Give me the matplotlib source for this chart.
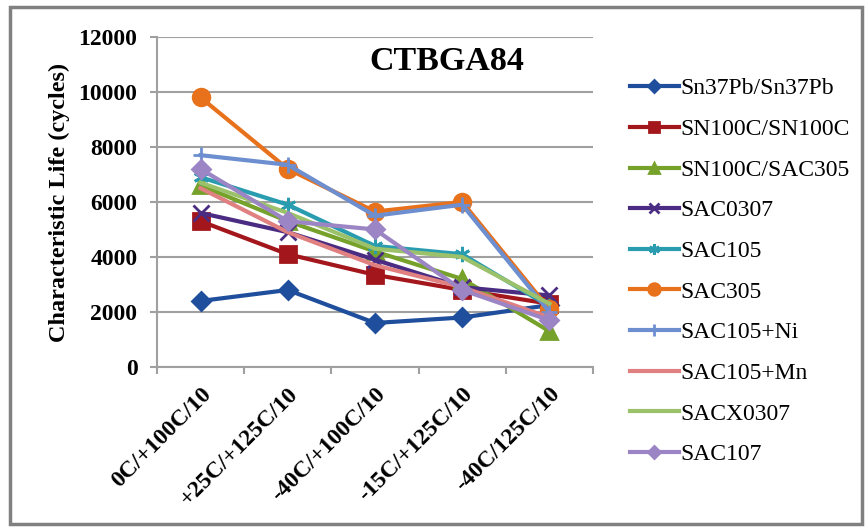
import matplotlib
matplotlib.use("Agg")
import matplotlib.pyplot as plt
from matplotlib.patches import Rectangle

categories = ["0C/+100C/10", "+25C/+125C/10", "-40C/+100C/10", "-15C/+125C/10", "-40C/125C/10"]

series_names = ["Sn37Pb/Sn37Pb", "SN100C/SN100C", "SN100C/SAC305", "SAC0307", "SAC105",
                "SAC305", "SAC105+Ni", "SAC105+Mn", "SACX0307", "SAC107"]

sn37pb = [2400, 2800, 1600, 1800, 2250]
sn100c_sn100c = [5300, 4100, 3350, 2800, 2300]
sn100c_sac305 = [6600, 5300, 4200, 3200, 1300]
sac0307 = [5600, 4900, 3900, 2900, 2600]
sac105 = [6900, 5900, 4400, 4100, 2200]
sac305 = [9800, 7200, 5650, 6000, 2100]
sac105_ni = [7700, 7350, 5500, 5900, 2000]
sac105_mn = [6500, 4900, 3700, 2900, 1800]
sacx0307 = [6700, 5600, 4300, 4000, 2300]
sac107 = [7200, 5300, 5000, 2800, 1700]

values = [sn37pb, sn100c_sn100c, sn100c_sac305, sac0307, sac105,
          sac305, sac105_ni, sac105_mn, sacx0307, sac107]

colors = ["#1F4E9C", "#A3171C", "#76A12A", "#4B2C83", "#2A9CB0",
          "#E8711C", "#6D8FD0", "#E08080", "#9BC26A", "#9B85C4"]
markers = ["D", "s", "^", "x", (6, 2, 0), "o", "+", "None", "None", "D"]
msizes = [9, 11, 11, 11, 11, 12, 12, 0, 0, 9]

serif = ["Liberation Serif", "DejaVu Serif"]

fig = plt.figure(figsize=(8.67, 5.27), dpi=100)
fig.patch.set_facecolor("white")
ax = fig.add_axes([0.181, 0.3036, 0.503, 0.6264])

x = list(range(len(categories)))
for vals, name, c, m, ms in zip(values, series_names, colors, markers, msizes):
    ax.plot(x, vals, color=c, lw=3, marker=m, markersize=ms, label=name,
            markeredgewidth=2, markeredgecolor=c, markerfacecolor=c)

ax.set_xlim(-0.5, len(categories) - 0.5)
ax.set_ylim(0, 12000)
ax.set_yticks(range(0, 12001, 2000))
ax.set_yticklabels([str(v) for v in range(0, 12001, 2000)], fontfamily=serif,
                   fontsize=17, fontweight="bold")
ax.grid(axis="y", color="#A0A0A0", lw=1.5)
ax.set_axisbelow(True)

ax.set_xticks(x)
ax.set_xticklabels(categories, rotation=45, ha="right", rotation_mode="anchor",
                   fontfamily=serif, fontsize=17, fontweight="bold")
ax.tick_params(axis="x", which="major", length=0, pad=12)
ax.set_xticks([i - 0.5 for i in range(len(categories) + 1)], minor=True)
ax.tick_params(axis="x", which="minor", length=5, width=1.5, color="#A0A0A0")
ax.tick_params(axis="y", length=5, width=1.5, color="#A0A0A0", pad=9)

for s in ["top", "right"]:
    ax.spines[s].set_visible(False)
for s in ["left", "bottom"]:
    ax.spines[s].set_color("#A0A0A0")
    ax.spines[s].set_linewidth(1.5)

ax.set_ylabel("Characteristic Life (cycles)", fontfamily=serif, fontsize=17.5,
              fontweight="bold", labelpad=6)
ax.text(0.664, 0.925, "CTBGA84", transform=ax.transAxes, ha="center", va="center",
        fontfamily=serif, fontsize=24.5, fontweight="bold")

leg = ax.legend(loc="upper left", bbox_to_anchor=(1.035, 0.94), frameon=False,
                prop={"family": serif, "size": 17}, handlelength=2.1,
                handletextpad=0.05, labelspacing=0.81, markerscale=0.7)

fig.add_artist(Rectangle((0.011, 0.006), 0.983, 0.98, transform=fig.transFigure,
                         fill=False, edgecolor="#808080", lw=2.5))

fig.savefig("out.png", dpi=100)
